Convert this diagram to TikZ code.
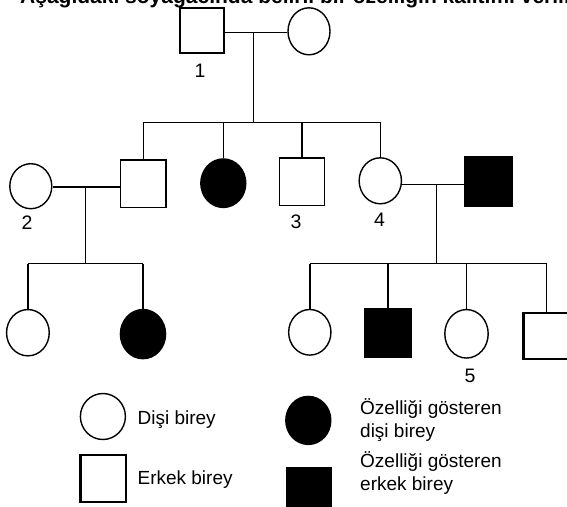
\documentclass[tikz,border=0pt]{standalone}
\usepackage{fontspec}
\setmainfont{Liberation Sans}
\usetikzlibrary{shapes.geometric}
\tikzset{
  sz/.style 2 args={minimum width=#1pt, minimum height=#2pt},
  fem/.style={ellipse, draw, line width=1.4pt, inner sep=0pt},
  femA/.style={fem, fill=black},
  male/.style={rectangle, draw, line width=1.6pt, inner sep=0pt},
  maleT/.style={male, line width=2.4pt},
  maleA/.style={male, fill=black},
  lbl/.style={inner sep=0pt, font=\fontsize{19.5}{22.5}\selectfont},
  txt/.style={inner sep=0pt, anchor=west, align=left, font=\fontsize{19}{22.5}\selectfont},
  ln/.style={line width=1.4pt}
}
\begin{document}
\begin{tikzpicture}[x=1pt, y=-1pt]
\useasboundingbox (0,0) rectangle (567,506);
\clip (0,0) rectangle (567,506);
\fill[white] (0,0) rectangle (567,506);

% title (cut off at the top, as in the reference)
\node[anchor=base west, inner sep=0pt, font=\bfseries\fontsize{21}{24}\selectfont] (title) at (20,4)
  {Aşağıdaki soyağacında belirli bir özelliğin kalıtımı verilmiştir.};

% generation I
\node[maleT, sz={44}{45}] (m1) at (202,30.2) {};
\node[fem, sz={42}{47}] (f1) at (309,31.3) {};
\node[lbl] (l1) at (200,71) {1};
\coordinate (j1) at (253.2,32.5);
\coordinate (b1) at (253.2,122.2);

% generation II
\node[fem, sz={42}{45}] (p2) at (30.8,186.2) {};
\node[male, sz={45.6}{47.4}] (c1) at (143.2,183.7) {};
\node[femA, sz={45}{48.5}] (c2) at (223.3,183.2) {};
\node[male, sz={44.8}{47.8}] (c3) at (302,181.7) {};
\node[fem, sz={42.3}{46}] (c4) at (380.3,180.8) {};
\node[maleA, sz={46.7}{48.8}] (h4) at (488.4,181.5) {};
\node[lbl] (l2) at (27,223) {2};
\node[lbl] (l3) at (296,221.5) {3};
\node[lbl] (l4) at (379.5,220) {4};
\coordinate (j2) at (85.4,187.1);
\coordinate (b2) at (85.4,263.6);
\coordinate (j3) at (436.5,184.2);
\coordinate (b3) at (436.5,263.6);

% generation III
\node[fem, sz={42.7}{46.3}] (g1) at (27.9,332.7) {};
\node[femA, sz={45.2}{49.2}] (g2) at (143,334.1) {};
\node[fem, sz={42.3}{45.6}] (g3) at (309.8,332.3) {};
\node[maleA, sz={46.6}{49}] (g4) at (387.9,333) {};
\node[fem, sz={43.4}{48.5}] (g5) at (466.5,333.8) {};
\node[maleT, sz={46}{46}] (g6) at (546.6,335.8) {};
\node[lbl] (l5) at (470,376) {5};

% connectors
\draw[ln] (m1.east |- j1) -- (j1) -- (f1.west |- j1);
\draw[ln] (j1) -- (b1);
\draw[ln] (c1.north |- b1) -- (c4.north |- b1);
\foreach \c in {c1,c2,c3,c4} \draw[ln] (\c.north |- b1) -- (\c.north);

\draw[ln] (p2.east |- j2) -- (j2) -- (c1.west |- j2);
\draw[ln] (j2) -- (b2);
\draw[ln] (g1.north |- b2) -- (g2.north |- b2);
\foreach \c in {g1,g2} \draw[ln] (\c.north |- b2) -- (\c.north);

\draw[ln] (c4.east |- j3) -- (j3) -- (h4.west |- j3);
\draw[ln] (j3) -- (b3);
\draw[ln] (g3.north |- b3) -- (g6.north |- b3);
\foreach \c in {g3,g4,g5,g6} \draw[ln] (\c.north |- b3) -- (\c.north);

% legend
\node[fem, sz={45}{46}] (lf) at (102.9,416.5) {};
\node[maleT, sz={45.6}{47}] (lm) at (103.1,478.7) {};
\node[femA, sz={45}{48}] (la) at (308.3,420.4) {};
\node[maleA, sz={45.2}{46}] (lb) at (309,491) {};
\node[txt] (tf) at (137.4,419.8) {Dişi birey};
\node[txt] (tm) at (137.4,479.5) {Erkek birey};
\node[txt] (ta) at (360,420) {Özelliği gösteren\\dişi birey};
\node[txt] (tb) at (360,473) {Özelliği gösteren\\erkek birey};
\end{tikzpicture}
\end{document}
